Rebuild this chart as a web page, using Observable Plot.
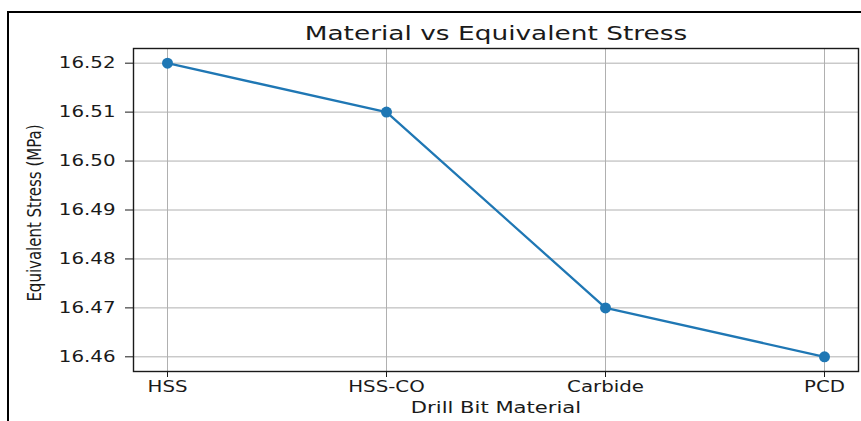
<!DOCTYPE html>
<html><head><meta charset="utf-8">
<script src="https://cdn.jsdelivr.net/npm/d3@7"></script>
<script src="https://cdn.jsdelivr.net/npm/@observablehq/plot@0.6"></script>
<style>
body{margin:0;background:#fff;}
#wrap{position:relative;width:861px;height:421px;overflow:hidden;}
#wrap svg{position:absolute;left:0;top:0;}
#border{position:absolute;left:7px;top:11px;right:-5px;bottom:-5px;border-left:2px solid #000;border-top:2px solid #000;}
</style></head><body>
<div id="wrap"><div id="border"></div></div>
<script>
const materials = ["HSS", "HSS-CO", "Carbide", "PCD"];
const stress = [16.52, 16.51, 16.47, 16.46];
const yTicks = [16.46, 16.47, 16.48, 16.49, 16.50, 16.51, 16.52];
const title = "Material vs Equivalent Stress";
const xLabel = "Drill Bit Material";
const yLabel = "Equivalent Stress (MPa)";

const data = materials.map((m, i) => ({material: m, stress: stress[i]}));
const font = "'DejaVu Sans', sans-serif";
const ink = "#1a1a1a";

const chart = Plot.plot({
  width: 861, height: 421,
  marginLeft: 133, marginRight: 3, marginTop: 48, marginBottom: 50,
  style: {fontFamily: font, background: "transparent", color: ink},
  x: {type: "point", domain: materials, padding: 0.15, axis: null},
  y: {domain: [16.457, 16.523], axis: null},
  marks: [
    Plot.gridX(materials, {stroke: "#b0b0b0", strokeOpacity: 1, strokeWidth: 1}),
    Plot.gridY(yTicks, {stroke: "#b0b0b0", strokeOpacity: 1, strokeWidth: 1}),
    Plot.axisX(materials, {label: null, tickSize: 6, tickPadding: 4, fontSize: 15, stroke: ink, fill: ink}),
    Plot.axisY(yTicks, {label: null, tickSize: 8, tickPadding: 10, fontSize: 15, tickFormat: d3.format(".2f"), stroke: ink, fill: ink}),
    Plot.frame({stroke: "#1a1a1a", strokeWidth: 1.4}),
    Plot.line(data, {x: "material", y: "stress", stroke: "#1f77b4", strokeWidth: 2.3}),
    Plot.dot(data, {x: "material", y: "stress", r: 5.5, fill: "#1f77b4"}),
    Plot.text([title], {frameAnchor: "top", textAnchor: "middle", lineAnchor: "middle", dy: -15, fontSize: 20, fill: ink}),
    Plot.text([xLabel], {frameAnchor: "bottom", textAnchor: "middle", lineAnchor: "top", dy: 30, fontSize: 16, fill: ink}),
    Plot.text([yLabel], {frameAnchor: "left", textAnchor: "middle", lineAnchor: "middle", rotate: -90, dx: -99, dy: 3, fontSize: 15, fill: ink})
  ]
});

// horizontal stretch of glyphs, as in the reference image
const SX = 1.32;
chart.querySelectorAll("text").forEach(t => {
  let tr = t.getAttribute("transform") || "";
  if (!/translate/.test(tr)) {
    const x = +(t.getAttribute("x") || 0), y = +(t.getAttribute("y") || 0);
    t.removeAttribute("x"); t.removeAttribute("y");
    tr = `translate(${x},${y}) ` + tr;
  }
  t.setAttribute("transform", tr + (/rotate/.test(tr) ? ` scale(1,${SX})` : ` scale(${SX},1)`));
});

document.getElementById("wrap").appendChild(chart);
</script>
</body></html>
